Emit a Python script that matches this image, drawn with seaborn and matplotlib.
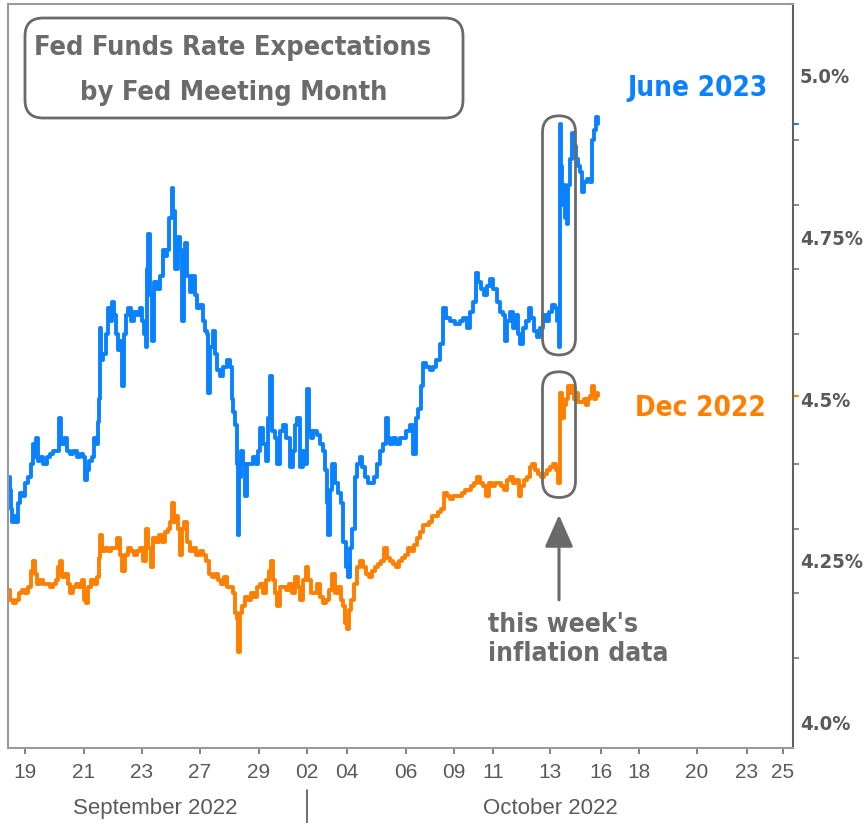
import numpy as np
import pandas as pd
import matplotlib
matplotlib.use("Agg")
import matplotlib.pyplot as plt
import seaborn as sns
from matplotlib.patches import FancyBboxPatch

# ---------------- data (t = elapsed trading-session time, arbitrary units) ----------------
blue_t = [0, 2, 3, 4, 6, 8, 10, 12, 14, 17, 20, 23, 25, 27, 28, 30, 32, 35, 39, 42,
          45, 49, 51, 53, 56, 59, 62, 65, 69, 72, 75, 77, 79, 81, 84, 86, 88, 90, 91, 92,
          93, 95, 98, 100, 102, 104, 106, 108, 110, 112, 114, 116, 118, 120, 123, 126, 129, 132, 134, 136,
          138, 139, 140, 142, 144, 146, 149, 152, 155, 157, 159, 161, 164, 165, 167, 170, 172, 174, 176, 177,
          179, 182, 184, 187, 189, 192, 195, 197, 199, 200, 202, 205, 207, 209, 212, 215, 219, 222, 224, 225,
          227, 229, 230, 231, 233, 235, 237, 239, 242, 245, 248, 250, 252, 255, 258, 260, 262, 264, 267, 269,
          272, 275, 278, 282, 285, 287, 289, 292, 295, 297, 299, 301, 303, 305, 309, 312, 315, 317, 319, 320,
          322, 324, 327, 330, 333, 335, 338, 340, 342, 344, 347, 349, 352, 354, 357, 360, 363, 366, 369, 372,
          375, 378, 380, 382, 385, 388, 392, 395, 398, 402, 405, 408, 410, 413, 415, 418, 422, 425, 428, 432,
          435, 438, 442, 447, 452, 455, 459, 462, 465, 468, 470, 473, 476, 479, 482, 485, 489, 492, 495, 497,
          499, 502, 505, 508, 510, 512, 515, 518, 521, 523, 526, 529, 532, 535, 538, 541, 544, 547, 549, 551,
          552, 553, 554, 556, 557, 559, 560, 562, 564, 566, 568, 570, 572, 574, 576, 579, 582, 584, 586, 588,
          590]
blue_v = [4.38, 4.36, 4.33, 4.31, 4.32, 4.31, 4.34, 4.355, 4.35, 4.37, 4.38, 4.40, 4.43, 4.41, 4.44, 4.405, 4.41, 4.40, 4.41, 4.415,
          4.42, 4.42, 4.47, 4.43, 4.44, 4.42, 4.415, 4.42, 4.41, 4.415, 4.41, 4.375, 4.39, 4.405, 4.41, 4.44, 4.43, 4.465, 4.50, 4.61,
          4.56, 4.57, 4.60, 4.64, 4.62, 4.65, 4.63, 4.60, 4.575, 4.59, 4.52, 4.60, 4.63, 4.64, 4.62, 4.635, 4.63, 4.64, 4.62, 4.60,
          4.58, 4.70, 4.755, 4.66, 4.59, 4.68, 4.67, 4.69, 4.73, 4.72, 4.73, 4.78, 4.825, 4.79, 4.70, 4.75, 4.73, 4.62, 4.70, 4.74,
          4.69, 4.665, 4.69, 4.66, 4.64, 4.645, 4.62, 4.605, 4.60, 4.51, 4.58, 4.605, 4.57, 4.545, 4.535, 4.55, 4.56, 4.55, 4.50, 4.48,
          4.46, 4.40, 4.29, 4.38, 4.42, 4.40, 4.35, 4.40, 4.40, 4.41, 4.40, 4.42, 4.455, 4.43, 4.405, 4.47, 4.535, 4.45, 4.44, 4.40,
          4.45, 4.46, 4.44, 4.395, 4.42, 4.46, 4.47, 4.395, 4.42, 4.40, 4.515, 4.45, 4.44, 4.45, 4.445, 4.43, 4.42, 4.39, 4.34, 4.29,
          4.36, 4.40, 4.37, 4.355, 4.34, 4.28, 4.24, 4.225, 4.27, 4.30, 4.38, 4.40, 4.41, 4.395, 4.38, 4.37, 4.37, 4.38, 4.40, 4.42,
          4.43, 4.47, 4.44, 4.43, 4.44, 4.43, 4.44, 4.44, 4.45, 4.46, 4.415, 4.47, 4.485, 4.52, 4.555, 4.55, 4.545, 4.55, 4.56, 4.585,
          4.64, 4.625, 4.62, 4.615, 4.62, 4.625, 4.61, 4.635, 4.65, 4.695, 4.68, 4.67, 4.66, 4.675, 4.685, 4.67, 4.65, 4.635, 4.63, 4.59,
          4.62, 4.635, 4.61, 4.63, 4.60, 4.585, 4.61, 4.62, 4.64, 4.625, 4.605, 4.595, 4.61, 4.63, 4.62, 4.635, 4.645, 4.64, 4.62, 4.58,
          4.925, 4.86, 4.80, 4.83, 4.78, 4.77, 4.83, 4.87, 4.91, 4.89, 4.87, 4.86, 4.85, 4.82, 4.835, 4.84, 4.835, 4.90, 4.915, 4.935,
          4.925]

orange_t = [0, 2, 5, 8, 11, 14, 17, 20, 23, 25, 27, 29, 32, 35, 39, 42, 45, 48, 50, 52,
            54, 57, 60, 62, 65, 68, 71, 74, 76, 78, 80, 83, 86, 89, 91, 92, 94, 97, 100, 103,
            106, 109, 112, 114, 117, 120, 123, 126, 129, 132, 135, 138, 140, 143, 145, 148, 151, 154, 157, 160,
            162, 164, 166, 168, 170, 172, 174, 176, 179, 182, 185, 188, 192, 195, 198, 201, 204, 207, 210, 213,
            216, 219, 222, 225, 227, 229, 230, 232, 234, 237, 240, 243, 246, 249, 252, 255, 258, 261, 263, 265,
            267, 269, 272, 275, 278, 281, 284, 287, 290, 292, 295, 298, 300, 303, 306, 309, 312, 315, 318, 321,
            324, 327, 330, 333, 335, 337, 339, 341, 343, 346, 349, 352, 355, 358, 361, 364, 367, 370, 373, 376,
            379, 382, 385, 388, 391, 394, 397, 400, 403, 406, 409, 412, 415, 418, 421, 424, 427, 430, 433, 436,
            439, 442, 445, 448, 451, 454, 457, 460, 463, 466, 469, 472, 475, 478, 481, 484, 487, 490, 493, 496,
            499, 502, 505, 508, 511, 513, 516, 519, 522, 524, 527, 530, 533, 536, 539, 542, 545, 548, 550, 551,
            552, 554, 556, 558, 560, 562, 564, 566, 568, 570, 573, 576, 578, 580, 582, 584, 586, 588, 590]
orange_v = [4.205, 4.19, 4.185, 4.19, 4.20, 4.205, 4.20, 4.21, 4.235, 4.25, 4.23, 4.215, 4.22, 4.215, 4.215, 4.21, 4.215, 4.22, 4.24, 4.25,
            4.225, 4.23, 4.215, 4.20, 4.21, 4.215, 4.21, 4.22, 4.19, 4.185, 4.21, 4.22, 4.215, 4.225, 4.255, 4.29, 4.265, 4.27, 4.265, 4.27,
            4.27, 4.285, 4.26, 4.235, 4.26, 4.27, 4.265, 4.26, 4.265, 4.27, 4.25, 4.30, 4.27, 4.24, 4.285, 4.28, 4.29, 4.28, 4.295, 4.30,
            4.31, 4.34, 4.31, 4.32, 4.30, 4.26, 4.30, 4.31, 4.28, 4.265, 4.27, 4.26, 4.265, 4.26, 4.25, 4.23, 4.225, 4.23, 4.22, 4.215,
            4.225, 4.21, 4.21, 4.20, 4.17, 4.16, 4.11, 4.17, 4.18, 4.195, 4.19, 4.20, 4.195, 4.21, 4.215, 4.20, 4.22, 4.235, 4.25, 4.22,
            4.20, 4.18, 4.21, 4.21, 4.205, 4.215, 4.20, 4.225, 4.21, 4.19, 4.22, 4.24, 4.22, 4.20, 4.20, 4.215, 4.195, 4.185, 4.19, 4.205,
            4.23, 4.20, 4.21, 4.19, 4.18, 4.155, 4.145, 4.175, 4.19, 4.215, 4.24, 4.25, 4.24, 4.23, 4.225, 4.235, 4.24, 4.245, 4.25, 4.27,
            4.255, 4.25, 4.245, 4.24, 4.25, 4.255, 4.26, 4.27, 4.265, 4.275, 4.285, 4.295, 4.305, 4.305, 4.31, 4.32, 4.32, 4.325, 4.33, 4.355,
            4.35, 4.345, 4.35, 4.35, 4.35, 4.355, 4.36, 4.36, 4.365, 4.37, 4.38, 4.37, 4.365, 4.35, 4.37, 4.365, 4.37, 4.37, 4.365, 4.36,
            4.375, 4.38, 4.37, 4.375, 4.35, 4.365, 4.375, 4.38, 4.395, 4.40, 4.39, 4.385, 4.38, 4.385, 4.39, 4.395, 4.40, 4.39, 4.37, 4.37,
            4.51, 4.47, 4.49, 4.50, 4.52, 4.51, 4.52, 4.50, 4.51, 4.495, 4.495, 4.50, 4.49, 4.50, 4.505, 4.52, 4.50, 4.51, 4.505]

tick_pos = [17, 76, 134, 192, 251, 299, 339, 398, 446, 485, 542, 593, 631, 689, 739, 775]
tick_labels = ["19", "21", "23", "27", "29", "02", "04", "06", "09", "11", "13", "16", "18", "20", "23", "25"]
month_labels = ["September 2022", "October 2022"]
month_centers = [147, 542]
month_boundary = 299
event_t = 551  # CPI release
y_ticks = [4.0, 4.25, 4.5, 4.75, 5.0]
y_tick_labels = ["4.0%", "4.25%", "4.5%", "4.75%", "5.0%"]
series_names = ["June 2023", "Dec 2022"]

# ---------------- style ----------------
BLUE = "#0A82FF"
ORANGE = "#FF8000"
GRAY = "#6B6B6B"
TICKGRAY = "#5A5A5A"

sns.set_theme(style="white")
plt.rcParams["font.family"] = ["DejaVu Sans"]
COND = dict(family=["DejaVu Sans Condensed", "DejaVu Sans"], fontstretch="condensed", fontweight="bold")
NARROW = dict(family=["Liberation Sans", "DejaVu Sans"])

W, H = 867, 823
fig = plt.figure(figsize=(W / 100, H / 100), dpi=100)
fig.patch.set_facecolor("white")
ax = fig.add_axes([8 / W, 75 / H, 785 / W, 744 / H])
ax.set_facecolor("white")

df_b = pd.DataFrame({"t": blue_t, "rate": blue_v})
df_o = pd.DataFrame({"t": orange_t, "rate": orange_v})
sns.lineplot(data=df_b, x="t", y="rate", ax=ax, color=BLUE, linewidth=2.8,
             drawstyle="steps-post", sort=False, estimator=None)
sns.lineplot(data=df_o, x="t", y="rate", ax=ax, color=ORANGE, linewidth=2.8,
             drawstyle="steps-post", sort=False, estimator=None)

xlim = (0, 785)
ylim = (3.9614, 5.1096)
ax.set_xlim(*xlim)
ax.set_ylim(*ylim)
ax.set_xlabel("")
ax.set_ylabel("")

# spines
for s in ["left", "top", "bottom"]:
    ax.spines[s].set_color("#9A9A9A")
    ax.spines[s].set_linewidth(1.5)
ax.spines["right"].set_color("#606060")
ax.spines["right"].set_linewidth(1.5)

# x ticks
ax.set_xticks(tick_pos)
ax.set_xticklabels(tick_labels, color=TICKGRAY, fontsize=15, **NARROW)
ax.tick_params(axis="x", direction="out", length=4.5, width=1.3, color="#777777", pad=6, bottom=True)

# y ticks on the right
ax.yaxis.tick_right()
ax.set_yticks(y_ticks)
ax.set_yticklabels(y_tick_labels, color=TICKGRAY, fontsize=14.5, **COND)
ax.set_yticks(np.round(np.arange(4.0, 5.01, 0.1), 2), minor=True)
ax.tick_params(axis="y", which="major", length=0, pad=5, right=True, left=False)
ax.tick_params(axis="y", which="minor", length=4, width=1.2, color="#777777", right=True, left=False, direction="out")

# last value marks on the axis
yt = ax.get_yaxis_transform()
ax.plot([1.0, 1.006], [blue_v[-1]] * 2, color=BLUE, lw=1.5, transform=yt, clip_on=False)
ax.plot([1.0, 1.006], [orange_v[-1]] * 2, color=ORANGE, lw=1.5, transform=yt, clip_on=False)

# month labels and separator
xt = ax.get_xaxis_transform()
for lab, c in zip(month_labels, month_centers):
    ax.text(c, -0.081, lab, transform=xt, ha="center", va="center", fontsize=16,
            color=TICKGRAY, **NARROW)
ax.plot([month_boundary, month_boundary], [-0.057, -0.11], transform=xt, color="#555555",
        lw=1.2, clip_on=False)

# series labels
ax.text(690, 4.98, series_names[0], color=BLUE, fontsize=20, ha="center", va="center", **COND)
ax.text(692, 4.486, series_names[1], color=ORANGE, fontsize=20, ha="center", va="center", **COND)

# highlight boxes around the jump
xpp = (xlim[1] - xlim[0]) / 785.0
ypp = (ylim[1] - ylim[0]) / 744.0
asp = ypp / xpp
half_w = 16.5
bt = np.array(blue_t); bv = np.array(blue_v)
ot = np.array(orange_t); ov = np.array(orange_v)
for tt, vv, pad in [(bt, bv, 0.012), (ot, ov, 0.022)]:
    m = (tt >= event_t - half_w) & (tt <= event_t + half_w)
    y0 = vv[m].min() - pad
    y1 = vv[m].max() + pad
    box = FancyBboxPatch((event_t - half_w, y0), 2 * half_w, y1 - y0,
                         boxstyle=f"round,pad=0,rounding_size={half_w}",
                         mutation_aspect=asp, fill=False, edgecolor="#6A6A6A", lw=2.0, zorder=5)
    ax.add_patch(box)

# arrow + annotation
ax.annotate("", xy=(event_t, 4.321), xytext=(event_t, 4.19),
            arrowprops=dict(arrowstyle="-|>,head_length=0.9,head_width=0.4", mutation_scale=22,
                            color="#6A6A6A", lw=2.2, shrinkA=0, shrinkB=0))
ax.text(480, 4.172, "this week's\ninflation data", color=GRAY, fontsize=19, ha="left", va="top",
        linespacing=1.15, **COND)

# title box
tb = FancyBboxPatch((0.25, 7.05), 4.38, 1.00, boxstyle="round,pad=0,rounding_size=0.18",
                    transform=fig.dpi_scale_trans, fill=False, edgecolor="#6A6A6A", lw=2.0, zorder=6)
fig.patches.append(tb)
fig.text(233 / W, 1 - 55 / H, "Fed Funds Rate Expectations", ha="center", va="baseline",
         fontsize=19.5, color=GRAY, **COND)
fig.text(234 / W, 1 - 100 / H, "by Fed Meeting Month", ha="center", va="baseline",
         fontsize=19.5, color=GRAY, **COND)

fig.savefig("out.png", dpi=100, facecolor="white")
